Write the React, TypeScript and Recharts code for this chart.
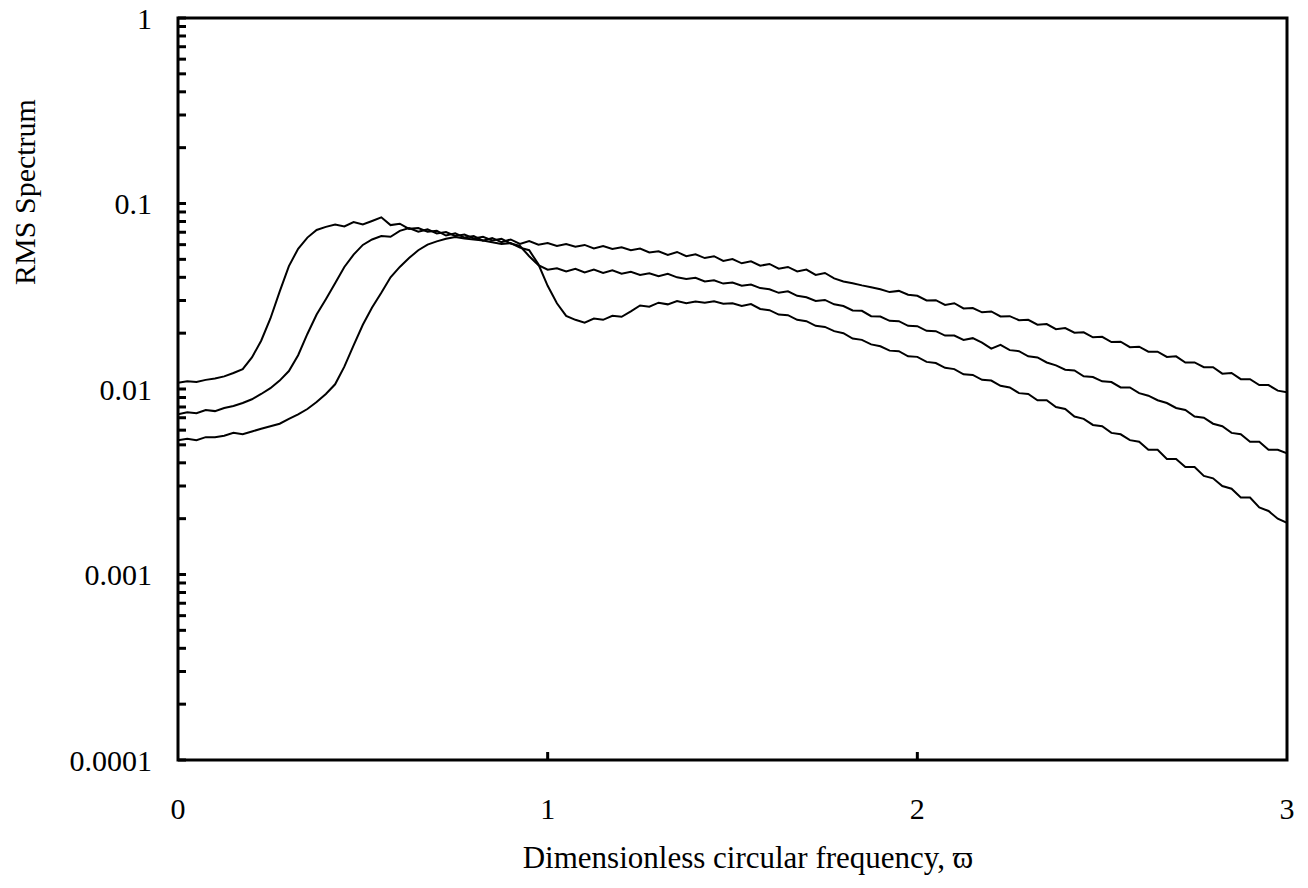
import { LineChart, Line, XAxis, YAxis, ReferenceArea, Label } from 'recharts';

// dimensionless circular frequency (x)
const freq = [
  0, 0.025, 0.05, 0.075, 0.1, 0.125, 0.15, 0.175, 0.2, 0.225, 0.25, 0.275, 0.3, 0.325, 0.35, 0.375, 0.4, 0.425, 0.45, 0.475,
  0.5, 0.525, 0.55, 0.575, 0.6, 0.625, 0.65, 0.675, 0.7, 0.725, 0.75, 0.775, 0.8, 0.825, 0.85, 0.875, 0.9, 0.925, 0.95, 0.975,
  1, 1.025, 1.05, 1.075, 1.1, 1.125, 1.15, 1.175, 1.2, 1.225, 1.25, 1.275, 1.3, 1.325, 1.35, 1.375, 1.4, 1.425, 1.45, 1.475,
  1.5, 1.525, 1.55, 1.575, 1.6, 1.625, 1.65, 1.675, 1.7, 1.725, 1.75, 1.775, 1.8, 1.825, 1.85, 1.875, 1.9, 1.925, 1.95, 1.975,
  2, 2.025, 2.05, 2.075, 2.1, 2.125, 2.15, 2.175, 2.2, 2.225, 2.25, 2.275, 2.3, 2.325, 2.35, 2.375, 2.4, 2.425, 2.45, 2.475,
  2.5, 2.525, 2.55, 2.575, 2.6, 2.625, 2.65, 2.675, 2.7, 2.725, 2.75, 2.775, 2.8, 2.825, 2.85, 2.875, 2.9, 2.925, 2.95, 2.975,
  3,
];

// upper curve (highest at low frequency)
const rmsA = [
  0.0108, 0.0110, 0.0109, 0.0112, 0.0114, 0.0117, 0.0122, 0.0128, 0.0148, 0.0182, 0.0240, 0.0335, 0.0460, 0.0570, 0.0655, 0.0720, 0.0748, 0.0770, 0.0752, 0.0795,
  0.0770, 0.0805, 0.0842, 0.0765, 0.0778, 0.0730, 0.0738, 0.0705, 0.0712, 0.0672, 0.0690, 0.0655, 0.0668, 0.0630, 0.0652, 0.0618, 0.0640, 0.0605, 0.0628, 0.0600,
  0.0612, 0.0590, 0.0605, 0.0585, 0.0598, 0.0572, 0.0590, 0.0568, 0.0580, 0.0560, 0.0572, 0.0545, 0.0553, 0.0528, 0.0548, 0.0520, 0.0532, 0.0508, 0.0520, 0.0490,
  0.0502, 0.0476, 0.0488, 0.0462, 0.0472, 0.0445, 0.0455, 0.0430, 0.0440, 0.0412, 0.0422, 0.0395, 0.0380, 0.0372, 0.0362, 0.0354, 0.0345, 0.0333, 0.0338, 0.0322,
  0.0318, 0.0300, 0.0301, 0.0284, 0.0290, 0.0272, 0.0273, 0.0259, 0.0262, 0.0246, 0.0247, 0.0235, 0.0236, 0.0222, 0.0224, 0.0210, 0.0213, 0.0201, 0.0202, 0.0190,
  0.0191, 0.0179, 0.0180, 0.0168, 0.0169, 0.0159, 0.0159, 0.0149, 0.0150, 0.0139, 0.0139, 0.0131, 0.0131, 0.0121, 0.0122, 0.0113, 0.0113, 0.0105, 0.0105, 0.0098,
  0.0096,
];

// middle curve
const rmsB = [
  0.0073, 0.0075, 0.0074, 0.0077, 0.0076, 0.0079, 0.0081, 0.0084, 0.0088, 0.0094, 0.0101, 0.0111, 0.0125, 0.0152, 0.0198, 0.0252, 0.0305, 0.0372, 0.0455, 0.0530,
  0.0598, 0.0640, 0.0668, 0.0662, 0.0712, 0.0738, 0.0705, 0.0725, 0.0690, 0.0702, 0.0668, 0.0680, 0.0648, 0.0662, 0.0632, 0.0645, 0.0608, 0.0590, 0.0520, 0.0465,
  0.0440, 0.0448, 0.0430, 0.0445, 0.0425, 0.0440, 0.0422, 0.0436, 0.0418, 0.0428, 0.0412, 0.0420, 0.0405, 0.0418, 0.0400, 0.0392, 0.0398, 0.0380, 0.0386, 0.0370,
  0.0375, 0.0360, 0.0366, 0.0350, 0.0345, 0.0330, 0.0336, 0.0318, 0.0312, 0.0298, 0.0302, 0.0286, 0.0280, 0.0265, 0.0264, 0.0247, 0.0246, 0.0233, 0.0232, 0.0219,
  0.0218, 0.0206, 0.0205, 0.0194, 0.0194, 0.0184, 0.0188, 0.0178, 0.0165, 0.0173, 0.0162, 0.0160, 0.0150, 0.0148, 0.0139, 0.0134, 0.0127, 0.0126, 0.0117, 0.0116,
  0.0110, 0.0109, 0.0102, 0.0102, 0.0095, 0.0092, 0.0087, 0.0084, 0.0079, 0.0077, 0.0071, 0.0070, 0.0065, 0.0063, 0.0058, 0.0057, 0.0052, 0.0052, 0.0047, 0.0047,
  0.0045,
];

// lower curve (lowest at low frequency, dip after 1)
const rmsC = [
  0.0053, 0.0054, 0.0053, 0.0055, 0.0055, 0.0056, 0.0058, 0.0057, 0.0059, 0.0061, 0.0063, 0.0065, 0.0069, 0.0073, 0.0078, 0.0085, 0.0094, 0.0106, 0.0132, 0.0172,
  0.0222, 0.0275, 0.0330, 0.0400, 0.0455, 0.0508, 0.0560, 0.0600, 0.0625, 0.0645, 0.0660, 0.0648, 0.0640, 0.0632, 0.0618, 0.0605, 0.0612, 0.0578, 0.0560, 0.0470,
  0.0360, 0.0290, 0.0248, 0.0236, 0.0228, 0.0240, 0.0236, 0.0248, 0.0245, 0.0262, 0.0282, 0.0278, 0.0292, 0.0286, 0.0298, 0.0290, 0.0296, 0.0292, 0.0297, 0.0288,
  0.0290, 0.0280, 0.0287, 0.0270, 0.0266, 0.0252, 0.0250, 0.0236, 0.0232, 0.0219, 0.0216, 0.0205, 0.0200, 0.0187, 0.0184, 0.0174, 0.0170, 0.0161, 0.0160, 0.0150,
  0.0149, 0.0140, 0.0138, 0.0130, 0.0128, 0.0120, 0.0119, 0.0112, 0.0111, 0.0104, 0.0102, 0.0095, 0.0094, 0.0087, 0.0087, 0.0080, 0.0078, 0.0071, 0.0069, 0.0064,
  0.0063, 0.0058, 0.0057, 0.0053, 0.0052, 0.0047, 0.0047, 0.0042, 0.0042, 0.0038, 0.0038, 0.0034, 0.0033, 0.0030, 0.0029, 0.0026, 0.0026, 0.0023, 0.0022, 0.0020,
  0.0019,
];

const xTicks = [0, 1, 2, 3];
const yMajor = [0.0001, 0.001, 0.01, 0.1, 1];
const yMajorLabels = ['0.0001', '0.001', '0.01', '0.1', '1'];
const minorSteps = [2, 3, 4, 5, 6, 7, 8, 9];

const yMinor = yMajor.slice(0, -1).flatMap((d) => minorSteps.map((k) => Number((d * k).toPrecision(3))));
const yTicks = [...yMajor, ...yMinor];

const data = freq.map((f, i) => ({ f, a: rmsA[i], b: rmsB[i], c: rmsC[i] }));

const FONT = '"Liberation Serif", "Times New Roman", serif';

function YTick(props: any) {
  const { x, y, payload } = props;
  const idx = yMajor.findIndex((m) => Math.abs(m - payload.value) / m < 1e-6);
  return (
    <g>
      <line x1={x} x2={x + 8} y1={y} y2={y} stroke="#000" strokeWidth={3} />
      {idx >= 0 && (
        <text x={x - 26} y={y} dy="0.35em" textAnchor="end" fontFamily={FONT} fontSize={30} fill="#000">
          {yMajorLabels[idx]}
        </text>
      )}
    </g>
  );
}

function XTick(props: any) {
  const { x, y, payload } = props;
  const v = payload.value;
  return (
    <g>
      {v > 0 && v < 3 && <line x1={x} x2={x} y1={y} y2={y - 8} stroke="#000" strokeWidth={3} />}
      <text x={x} y={y + 48} dy="0.35em" textAnchor="middle" fontFamily={FONT} fontSize={30} fill="#000">
        {v}
      </text>
    </g>
  );
}

export default function App() {
  return (
    <div style={{ margin: -8 }}>
      <LineChart width={1308} height={888} data={data} margin={{ top: 18, right: 21, left: 0, bottom: 0 }}>
        <XAxis
          dataKey="f"
          type="number"
          domain={[0, 3]}
          ticks={xTicks}
          interval={0}
          height={128}
          axisLine={false}
          tickLine={false}
          tickSize={0}
          tickMargin={0}
          tick={<XTick />}
          allowDataOverflow
        >
          <Label
            content={() => (
              <text x={748} y={868} textAnchor="middle" fontFamily={FONT} fontSize={31} fill="#000">
                Dimensionless circular frequency, ϖ
              </text>
            )}
          />
        </XAxis>
        <YAxis
          type="number"
          scale="log"
          domain={[0.0001, 1]}
          ticks={yTicks}
          interval={0}
          width={178}
          axisLine={false}
          tickLine={false}
          tickSize={0}
          tickMargin={0}
          tick={<YTick />}
          allowDataOverflow
        >
          <Label
            content={() => (
              <text x={35} y={192} transform="rotate(-90 35 192)" textAnchor="middle" fontFamily={FONT} fontSize={30} fill="#000">
                RMS Spectrum
              </text>
            )}
          />
        </YAxis>
        <ReferenceArea x1={0} x2={3} y1={0.0001} y2={1} fill="none" stroke="#000" strokeWidth={3} ifOverflow="visible" />
        <Line dataKey="a" type="linear" stroke="#000" strokeWidth={2} dot={false} isAnimationActive={false} />
        <Line dataKey="b" type="linear" stroke="#000" strokeWidth={2} dot={false} isAnimationActive={false} />
        <Line dataKey="c" type="linear" stroke="#000" strokeWidth={2} dot={false} isAnimationActive={false} />
      </LineChart>
    </div>
  );
}
